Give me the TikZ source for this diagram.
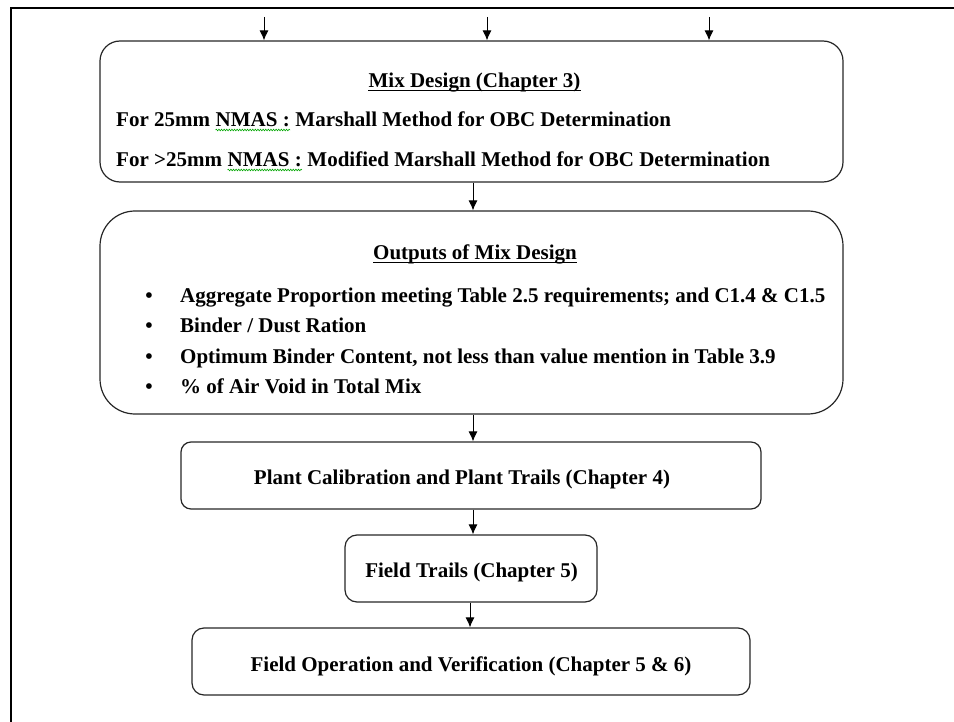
\documentclass[tikz,border=0pt]{standalone}
\usepackage{fontspec}
\setmainfont{Liberation Serif}
\usetikzlibrary{arrows.meta,decorations.pathmorphing}
\tikzset{
  box/.style={draw=black!85, line width=1.2pt},
  txt/.style={font=\fontsize{21}{25}\selectfont\bfseries, inner sep=0pt, text=black},
  arr/.style={draw=black, line width=1pt, -{Latex[length=10pt,width=9pt]}},
  ul/.style={draw=black, line width=1.2pt},
  squig/.style={draw=green!65!black, line width=0.6pt, decorate, decoration={snake, amplitude=0.8pt, segment length=2.6pt}}
}
\begin{document}
\begin{tikzpicture}[x=1pt,y=-1pt]
\useasboundingbox (0,0) rectangle (954,722);
% outer frame
\draw[line width=2pt] (11,722) -- (11,8) -- (954,8);

% boxes
\node[box, rounded corners=20pt, minimum width=743pt, minimum height=141pt] (mix) at (471.5,111.5) {};
\node[box, rounded corners=35pt, minimum width=743pt, minimum height=203pt] (out) at (471.5,312.5) {};
\node[box, rounded corners=10pt, minimum width=580pt, minimum height=67pt] (plant) at (471,475.5) {};
\node[box, rounded corners=12pt, minimum width=252pt, minimum height=67pt] (trail) at (471,568.5) {};
\node[box, rounded corners=12pt, minimum width=558pt, minimum height=67pt] (field) at (471,661.5) {};

% Mix design texts
\node[txt, anchor=base] (mixtitle) at (474.5,88) {Mix Design (Chapter 3)};
\draw[ul] ([yshift=-2.5pt]mixtitle.base west) -- ([yshift=-2.5pt]mixtitle.base east);
\node[txt, anchor=base west] (l1a) at (116,127) {For 25mm\ \null};
\node[txt, anchor=base west] (l1b) at (l1a.base east) {NMAS :};
\node[txt, anchor=base west] (l1c) at (l1b.base east) {\null\ Marshall Method for OBC Determination};
\draw[squig] ([yshift=-3pt]l1b.base west) -- ([yshift=-3pt]l1b.base east);
\node[txt, anchor=base west] (l2a) at (116,167) {For >25mm\ \null};
\node[txt, anchor=base west] (l2b) at (l2a.base east) {NMAS :};
\node[txt, anchor=base west] (l2c) at (l2b.base east) {\null\ Modified Marshall Method for OBC Determination};
\draw[squig] ([yshift=-3pt]l2b.base west) -- ([yshift=-3pt]l2b.base east);

% Outputs texts
\node[txt, anchor=base] (outtitle) at (475,260) {Outputs of Mix Design};
\draw[ul] ([yshift=-2.5pt]outtitle.base west) -- ([yshift=-2.5pt]outtitle.base east);
\node[txt, anchor=base] (b1) at (149,303) {•};
\node[txt, anchor=base] (b2) at (149,333) {•};
\node[txt, anchor=base] (b3) at (149,363) {•};
\node[txt, anchor=base] (b4) at (149,393) {•};
\node[txt, anchor=base west] (o1) at (180,303) {Aggregate Proportion meeting Table 2.5 requirements; and C1.4 \& C1.5};
\node[txt, anchor=base west] (o2) at (180,333) {Binder / Dust Ration};
\node[txt, anchor=base west] (o3) at (180,363) {Optimum Binder Content, not less than value mention in Table 3.9};
\node[txt, anchor=base west] (o4) at (180,393) {\% of Air Void in Total Mix};

% single-line boxes
\node[txt, anchor=base] (planttxt) at (462,484) {Plant Calibration and Plant Trails (Chapter 4)};
\node[txt, anchor=base] (trailtxt) at (471.5,577) {Field Trails (Chapter 5)};
\node[txt, anchor=base] (fieldtxt) at (471,671) {Field Operation and Verification (Chapter 5 \& 6)};

% incoming arrows at top
\coordinate (in1) at (264,17);
\coordinate (in2) at (487,17);
\coordinate (in3) at (709,17);
\draw[arr] (in1) -- (in1 |- mix.north);
\draw[arr] (in2) -- (in2 |- mix.north);
\draw[arr] (in3) -- (in3 |- mix.north);

% flow arrows
\draw[arr] ([xshift=1.5pt]mix.south) -- ([xshift=1.5pt]out.north);
\draw[arr] ([xshift=1.5pt]out.south) -- ([xshift=2pt]plant.north);
\draw[arr] ([xshift=2pt]plant.south) -- ([xshift=2pt]trail.north);
\draw[arr] ([xshift=-1pt]trail.south) -- ([xshift=-1pt]field.north);
\end{tikzpicture}
\end{document}
